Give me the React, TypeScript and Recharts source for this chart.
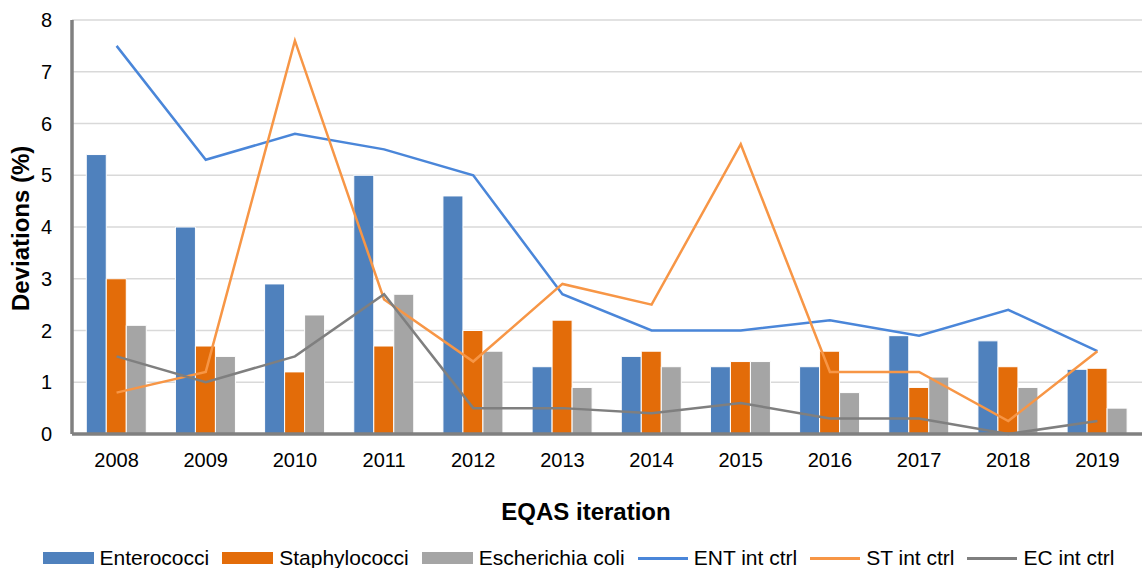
import React from "react";
import {
  Bar,
  CartesianGrid,
  ComposedChart,
  Legend,
  Line,
  XAxis,
  YAxis,
} from "recharts";

const years = ["2008", "2009", "2010", "2011", "2012", "2013", "2014", "2015", "2016", "2017", "2018", "2019"];
const enterococci = [5.4, 4.0, 2.9, 5.0, 4.6, 1.3, 1.5, 1.3, 1.3, 1.9, 1.8, 1.25];
const staphylococci = [3.0, 1.7, 1.2, 1.7, 2.0, 2.2, 1.6, 1.4, 1.6, 0.9, 1.3, 1.27];
const escherichia = [2.1, 1.5, 2.3, 2.7, 1.6, 0.9, 1.3, 1.4, 0.8, 1.1, 0.9, 0.5];
const entCtrl = [7.5, 5.3, 5.8, 5.5, 5.0, 2.7, 2.0, 2.0, 2.2, 1.9, 2.4, 1.6];
const stCtrl = [0.8, 1.2, 7.6, 2.6, 1.4, 2.9, 2.5, 5.6, 1.2, 1.2, 0.25, 1.6];
const ecCtrl = [1.5, 1.0, 1.5, 2.7, 0.5, 0.5, 0.4, 0.6, 0.3, 0.3, 0.0, 0.25];
const yTicks = [0, 1, 2, 3, 4, 5, 6, 7, 8];

const data = years.map((year, i) => ({
  year,
  ent: enterococci[i],
  st: staphylococci[i],
  ec: escherichia[i],
  entCtrl: entCtrl[i],
  stCtrl: stCtrl[i],
  ecCtrl: ecCtrl[i],
}));

const font = "'Liberation Sans', Arial, sans-serif";
const frame = "#808080";

const legendItems = [
  { name: "Enterococci", color: "#4F81BD", kind: "bar" },
  { name: "Staphylococci", color: "#E36C09", kind: "bar" },
  { name: "Escherichia coli", color: "#A5A5A5", kind: "bar" },
  { name: "ENT int ctrl", color: "#4A86D9", kind: "line" },
  { name: "ST int ctrl", color: "#F79646", kind: "line" },
  { name: "EC int ctrl", color: "#7F7F7F", kind: "line" },
];

function ChartLegend() {
  return (
    <div style={{ display: "flex", justifyContent: "center", fontFamily: font, fontSize: 21, lineHeight: "24px", color: "#000", paddingTop: 24, paddingLeft: 28 }}>
      {legendItems.map(item => (
        <div key={item.name} style={{ display: "flex", alignItems: "center", marginRight: 13 }}>
          {item.kind === "bar" ? (
            <span style={{ display: "inline-block", width: 51, height: 12, background: item.color, marginRight: 6 }} />
          ) : (
            <span style={{ display: "inline-block", width: 50, height: 3, background: item.color, marginRight: 6 }} />
          )}
          <span>{item.name}</span>
        </div>
      ))}
    </div>
  );
}

export default function App() {
  return (
    <div style={{ position: "absolute", left: 0, top: 0, background: "#fff" }}>
      <ComposedChart
        width={1147}
        height={568}
        data={data}
        margin={{ top: 20, right: 5, left: 0, bottom: 0 }}
        barCategoryGap="16%"
        barGap={0}
      >
        <CartesianGrid vertical={false} stroke="#D9D9D9" strokeWidth={1.5} />
        <XAxis
          dataKey="year"
          height={88}
          tickLine={false}
          axisLine={{ stroke: frame, strokeWidth: 3.5 }}
          tick={{ fill: "#000", fontSize: 20, fontFamily: font }}
          tickMargin={13}
          label={{ value: "EQAS iteration", position: "insideBottom", offset: 2, dx: -21, fill: "#000", fontSize: 24, fontWeight: "bold", fontFamily: font }}
        />
        <XAxis xAxisId="top" orientation="top" dataKey="year" height={0} tick={false} tickLine={false} axisLine={{ stroke: frame, strokeWidth: 3.5 }} />
        <YAxis
          width={72}
          domain={[0, 8]}
          ticks={yTicks}
          interval={0}
          tickLine={false}
          axisLine={{ stroke: frame, strokeWidth: 3.5 }}
          tick={{ fill: "#000", fontSize: 20, fontFamily: font }}
          tickMargin={14}
          label={{ value: "Deviations (%)", angle: -90, position: "insideLeft", offset: 20, dy: 84, fill: "#000", fontSize: 24, fontWeight: "bold", fontFamily: font }}
        />
        <YAxis yAxisId="right" orientation="right" width={0} tick={false} tickLine={false} axisLine={{ stroke: frame, strokeWidth: 3.5 }} />
        <Legend verticalAlign="bottom" height={46} content={() => <ChartLegend />} />
        <Bar dataKey="ent" name="Enterococci" fill="#4F81BD" stroke="#fff" strokeWidth={1} isAnimationActive={false} />
        <Bar dataKey="st" name="Staphylococci" fill="#E36C09" stroke="#fff" strokeWidth={1} isAnimationActive={false} />
        <Bar dataKey="ec" name="Escherichia coli" fill="#A5A5A5" stroke="#fff" strokeWidth={1} isAnimationActive={false} />
        <Line dataKey="entCtrl" name="ENT int ctrl" stroke="#4A86D9" strokeWidth={2.5} dot={false} isAnimationActive={false} />
        <Line dataKey="stCtrl" name="ST int ctrl" stroke="#F79646" strokeWidth={2.5} dot={false} isAnimationActive={false} />
        <Line dataKey="ecCtrl" name="EC int ctrl" stroke="#7F7F7F" strokeWidth={2.5} dot={false} isAnimationActive={false} />
      </ComposedChart>
    </div>
  );
}
